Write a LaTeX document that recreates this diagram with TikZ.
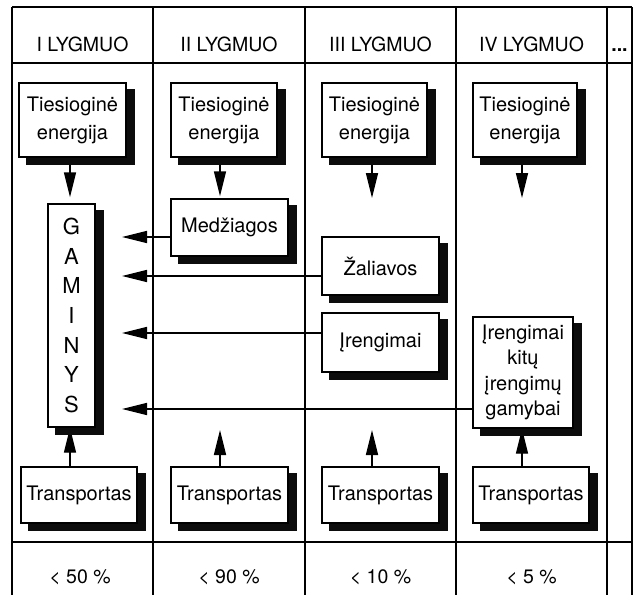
\documentclass[tikz,border=0pt]{standalone}
\usepackage{fontspec}
\setmainfont{TeX Gyre Heros}
\usetikzlibrary{arrows.meta,calc}
\definecolor{shadowcol}{RGB}{12,12,12}
\pgfdeclarelayer{bg}
\pgfdeclarelayer{shd}
\pgfsetlayers{bg,shd,main}
\begin{document}
\begin{tikzpicture}[x=1pt,y=-1pt,
  grid/.style={line width=1.1pt},
  box/.style={draw, fill=white, line width=1.4pt, inner sep=0pt, align=center,
    font=\fontsize{20}{28}\selectfont},
  shadowbox/.style={fill=shadowcol, draw=none},
  lbl/.style={font=\fontsize{19.5}{22}\selectfont, inner sep=0pt},
  arr/.style={line width=1.4pt, -{Triangle[length=25pt,width=12pt]}},
]
\useasboundingbox (0,0) rectangle (636,595);

% headers
\node[lbl] (h1) at (82.5,44) {I LYGMUO};
\node[lbl] (h2) at (229,44) {II LYGMUO};
\node[lbl] (h3) at (380.5,44) {III LYGMUO};
\node[lbl] (h4) at (531.5,44) {IV LYGMUO};
\node[lbl] (hd) at (619.5,50) {\textbf{...}};

% percentages
\node[lbl] (p1) at (80,577) {< 50 \%};
\node[lbl] (p2) at (229,577) {< 90 \%};
\node[lbl] (p3) at (380.5,577) {< 10 \%};
\node[lbl] (p4) at (531.5,577) {< 5 \%};

% direct energy boxes
\node[box, minimum width=107pt, minimum height=74pt] (T1) at (72.5,120) {Tiesioginė\\energija};
\node[box, minimum width=106pt, minimum height=74pt] (T2) at (224,120) {Tiesioginė\\energija};
\node[box, minimum width=105pt, minimum height=74pt] (T3) at (374.5,120) {Tiesioginė\\energija};
\node[box, minimum width=104pt, minimum height=74pt] (T4) at (525,120) {Tiesioginė\\energija};

% products
\node[box, minimum width=47pt, minimum height=223pt, font=\fontsize{22}{29.7}\selectfont] (G) at (71.5,315.5) {G\\A\\M\\I\\N\\Y\\S};

\node[box, minimum width=117pt, minimum height=57pt] (M) at (229.5,227.5) {Medžiagos};
\node[box, minimum width=117pt, minimum height=58pt] (Z) at (380.5,266) {Žaliavos};
\node[box, minimum width=117pt, minimum height=59pt] (E) at (380.5,342.5) {Įrengimai};
\node[box, minimum width=100pt, minimum height=111pt, font=\fontsize{20}{25.5}\selectfont] (K) at (523,372.5) {Įrengimai\\kitų\\įrengimų\\gamybai};

% transport
\node[box, minimum width=116pt, minimum height=56pt] (R1) at (79,495) {Transportas};
\node[box, minimum width=117pt, minimum height=56pt] (R2) at (229.5,495) {Transportas};
\node[box, minimum width=117pt, minimum height=56pt] (R3) at (380.5,495) {Transportas};
\node[box, minimum width=116pt, minimum height=56pt] (R4) at (531,495) {Transportas};

% helper coordinates
\coordinate (c1) at (70,0);
\coordinate (c2) at (220,0);
\coordinate (c3) at (372,0);
\coordinate (c4) at (522,0);
\coordinate (y1) at (0,237);
\coordinate (y2) at (0,276);
\coordinate (y3) at (0,333);
\coordinate (y4) at (0,409);
\coordinate (e1) at (122,237);
\coordinate (e2) at (122,276);
\coordinate (e3) at (122,333);
\coordinate (e4) at (122,409);
\coordinate (d3) at (372,198);
\coordinate (d4) at (522,198);
\coordinate (u2) at (220,430);
\coordinate (u3) at (372,430);

\begin{pgfonlayer}{shd}
\foreach \n in {T1,T2,T3,T4,G,M,Z,E,K,R1,R2,R3,R4}{
  \path[shadowbox] ($(\n.south west)+(8,7)$) rectangle ($(\n.north east)+(8,7)$);
}
\end{pgfonlayer}

\begin{pgfonlayer}{bg}
% grid
\draw[grid] (12,7) -- (632,7);
\draw[grid] (12,63) -- (632,63);
\draw[grid] (12,542) -- (632,542);
\foreach \x in {12,153,305,456,607,632} \draw[grid] (\x,7) -- (\x,595);

% down arrows
\draw[arr, shorten >=6pt] (T1.south -| c1) -- (G.north -| c1);
\draw[arr, shorten >=2pt] (T2.south -| c2) -- (M.north -| c2);
\draw[arr] (T3.south -| c3) -- (d3);
\draw[arr] (T4.south -| c4) -- (d4);

% up arrows
\draw[arr] (R1.north -| c1) -- (G.south -| c1);
\draw[arr] (R2.north -| c2) -- (u2);
\draw[arr] (R3.north -| c3) -- (u3);
\draw[arr] (R4.north -| c4) -- (K.south -| c4);

% left arrows
\draw[arr] (M.west |- y1) -- (e1);
\draw[arr] (Z.west |- y2) -- (e2);
\draw[arr] (E.west |- y3) -- (e3);
\draw[arr] (K.west |- y4) -- (e4);
\end{pgfonlayer}
\end{tikzpicture}
\end{document}
